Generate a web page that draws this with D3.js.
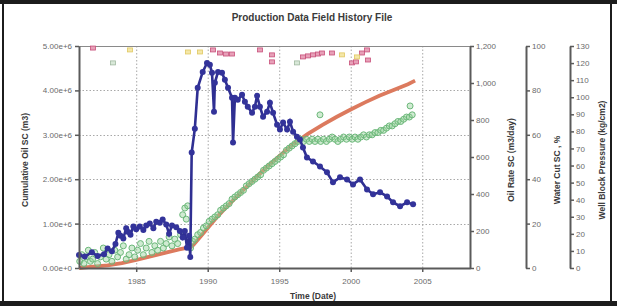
<!DOCTYPE html>
<html><head><meta charset="utf-8">
<script src="https://cdn.jsdelivr.net/npm/d3@7"></script>
<style>
html,body{margin:0;padding:0;background:#fff;}
svg{display:block;font-family:"Liberation Sans",Arial,sans-serif;}
</style></head>
<body><div id="chart"></div>
<script>
// ---- data ----
const xTicks = [1985, 1990, 1995, 2000, 2005];
const cumTicks = [0, 1e6, 2e6, 3e6, 4e6, 5e6];
const rateTicks = [0, 200, 400, 600, 800, 1000, 1200];
const wcTicks = [0, 20, 40, 60, 80, 100];
const presTicks = [0,10,20,30,40,50,60,70,80,90,100,110,120,130];

const oilYears = [1981.0,1981.4,1981.9,1982.3,1982.75,1983.0,1983.3,1983.55,1983.75,1983.9,1984.1,1984.3,1984.45,1984.6,1984.8,1985.0,1985.25,1985.5,1985.7,1985.95,1986.2,1986.4,1986.65,1986.85,1987.1,1987.3,1987.5,1987.8,1988.05,1988.25,1988.4,1988.55,1988.7,1988.78,
  1988.88,1989.1,1989.3,1989.65,1989.95,1990.15,1990.3,1990.44,1990.5,1990.72,1991.0,1991.2,1991.42,1991.7,1991.77,1991.9,1992.1,1992.4,1992.6,1992.8,1993.1,1993.3,1993.45,1993.65,1993.87,1994.15,1994.35,1994.57,1994.85,1995.05,1995.27,1995.55,1995.75,1995.97,1996.24,1996.45,1996.66,1996.94,1997.36,1997.85,1998.34,1998.76,1999.25,1999.74,2000.16,2000.65,2001.14,2001.56,2002.05,2002.54,2002.96,2003.45,2003.94,2004.36];
const oilRate = [70,62,85,65,75,105,90,130,190,175,160,215,195,180,225,210,225,205,230,240,215,250,245,262,235,185,230,220,200,165,200,110,175,60,
  624,753,974,1060,1108,1098,1055,845,1001,1060,1055,1017,974,920,678,920,909,936,899,872,839,872,931,872,818,845,893,839,775,748,786,748,791,737,710,694,651,597,576,549,517,463,490,479,452,479,425,398,409,387,355,334,355,344];

const cumYears = [1981,1982,1983,1984,1985,1986,1987,1988,1988.8,1989,1989.5,1990,1990.5,1991,1992,1993,1994,1995,1996,1997,1998,1999,2000,2001,2002,2003,2004,2004.5];
const cumOil = [0,0.03e6,0.06e6,0.11e6,0.18e6,0.26e6,0.34e6,0.42e6,0.47e6,0.52e6,0.71e6,0.90e6,1.09e6,1.27e6,1.60e6,1.92e6,2.23e6,2.52e6,2.79e6,3.02e6,3.22e6,3.40e6,3.57e6,3.73e6,3.88e6,4.01e6,4.14e6,4.22e6];

const wcYears = [1981.05,1981.2,1981.35,1981.5,1981.65,1981.8,1981.95,1982.1,1982.3,1982.5,1982.7,1982.9,1983.1,1983.3,1983.5,1983.7,1983.9,1984.1,1984.3,1984.5,1984.7,1984.9,1985.1,1985.3,1985.5,1985.7,1985.9,1986.1,1986.3,1986.5,1986.7,1986.9,1987.1,1987.3,1987.5,1987.7,1987.9,1988.1,1988.25,1988.4,1988.5,1988.6,1988.7,
  1988.8,1988.95,1989.1,1989.3,1989.5,1989.7,1989.9,1990.1,1990.3,1990.5,1990.7,1990.9,1991.1,1991.3,1991.5,1991.7,1991.9,1992.1,1992.3,1992.5,1992.7,1992.9,1993.1,1993.3,1993.5,1993.7,1993.9,1994.1,1994.3,1994.5,1994.7,1994.9,1995.1,1995.3,1995.5,1995.7,1995.9,1996.1,1996.3,1996.5,1996.7,1996.9,1997.1,1997.3,1997.5,1997.7,1997.85,1997.9,1998.1,1998.3,1998.5,1998.7,1998.9,1999.1,1999.3,1999.5,1999.7,1999.9,2000.1,2000.3,2000.5,2000.7,2000.9,2001.1,2001.3,2001.5,2001.7,2001.9,2002.1,2002.3,2002.5,2002.7,2002.9,2003.1,2003.3,2003.5,2003.7,2003.9,2004.1,2004.15,2004.3];
const waterCut = [3,6,2,5,8,3,4,7,2,5,9,4,6,3,8,5,7,10,4,6,9,5,8,11,6,9,12,7,10,8,12,9,11,14,10,13,11,15,24,27,22,28,13,
  9,12,13,15,16,18,19,21,22,23,24,26,27,28,29,31,32,33,34,35,37,38,39,40,41,42,44,45,46,47,48,49,50,51,53,54,55,56,57,58,57,58,57,58,57,58,69,57,58,57,58,59,58,57,58,59,58,59,58,59,58,59,60,59,60,60,61,61,62,62,63,64,64,65,66,66,67,68,68,73,69];

const presPinkYears = [1981.98,1990.37,1990.86,1991.28,1991.7,1993.66,1994.5,1994.5,1996.66,1997.01,1997.36,1997.71,1997.99,1998.69,2000.09,2000.37,2000.79,2001.14,2001.21];
const presPink = [128.8,127.7,125.9,125.3,125.3,127.7,124.8,120.7,123.6,124.2,124.8,125.3,125.9,125.9,120.1,120.7,125.9,127.7,121.8];
const presYellowYears = [1984.57,1988.62,1989.46,1999.39,2000.44];
const presYellow = [127.7,126.5,126.5,124.8,123.6];
const presGreyYears = [1983.38,1996.24];
const presGrey = [120.1,120.1];

// ---- chart ----
const W = 617, H = 306;
const L = 79, R = 470, T = 46, B = 268;
const svg = d3.select("#chart").append("svg").attr("width", W).attr("height", H);

// frame
svg.append("rect").attr("x",0).attr("y",0).attr("width",W).attr("height",H).attr("fill","#fff");
svg.append("rect").attr("x",0).attr("y",0).attr("width",W).attr("height",4).attr("fill","#1c1c1c");
svg.append("rect").attr("x",0).attr("y",301).attr("width",W).attr("height",5).attr("fill","#1c1c1c");
svg.append("rect").attr("x",2).attr("y",0).attr("width",2).attr("height",H).attr("fill","#1c1c1c");
svg.append("rect").attr("x",610).attr("y",0).attr("width",2).attr("height",H).attr("fill","#1c1c1c");

const x = d3.scaleLinear().domain([1981, 2008.34]).range([L, R]);
const yCum = d3.scaleLinear().domain([0, 5e6]).range([B, T]);
const yRate = d3.scaleLinear().domain([0, 1200]).range([B, T]);
const yWC = d3.scaleLinear().domain([0, 100]).range([B, T]);
const yP = d3.scaleLinear().domain([0, 130]).range([B, T]);

// grid
const grid = svg.append("g").attr("stroke","#a8a8a8").attr("stroke-width",1).attr("stroke-dasharray","1.5,2");
xTicks.forEach(t => grid.append("line").attr("x1",x(t)+0.5).attr("x2",x(t)+0.5).attr("y1",T).attr("y2",B));
cumTicks.slice(1,5).forEach(t => grid.append("line").attr("x1",L).attr("x2",R).attr("y1",Math.round(yCum(t))+0.5).attr("y2",Math.round(yCum(t))+0.5));
// top border
svg.append("line").attr("x1",L).attr("x2",R).attr("y1",T+0.5).attr("y2",T+0.5).attr("stroke","#8a8a8a").attr("stroke-width",1.2);

const plot = svg.append("g");

// cumulative line
plot.append("path").datum(cumYears.map((d,i)=>[d,cumOil[i]]))
  .attr("fill","none").attr("stroke","#dc7a5e").attr("stroke-width",3.8)
  .attr("d", d3.line().x(d=>x(d[0])).y(d=>yCum(d[1])));

// water cut circles
plot.append("g").selectAll("circle").data(wcYears.map((d,i)=>[d,waterCut[i]])).join("circle")
  .attr("cx",d=>x(d[0])).attr("cy",d=>yWC(d[1])).attr("r",3)
  .attr("fill","rgba(150,210,155,0.45)").attr("stroke","#6cb87a").attr("stroke-width",1);

// oil rate
const oil = oilYears.map((d,i)=>[d,oilRate[i]]);
plot.append("path").datum(oil).attr("fill","none").attr("stroke","#2f2f92").attr("stroke-width",2.6)
  .attr("d", d3.line().x(d=>x(d[0])).y(d=>yRate(d[1])));
plot.append("g").selectAll("circle").data(oil).join("circle")
  .attr("cx",d=>x(d[0])).attr("cy",d=>yRate(d[1])).attr("r",3).attr("fill","#33339a");

// pressure points
function pts(ys, vs, fill, stroke){
  plot.append("g").selectAll("rect").data(ys.map((d,i)=>[d,vs[i]])).join("rect")
    .attr("x",d=>x(d[0])-2.5).attr("y",d=>yP(d[1])-2).attr("width",5).attr("height",4)
    .attr("fill",fill).attr("stroke",stroke).attr("stroke-width",0.8);
}
pts(presPinkYears, presPink, "#e7a0b8", "#c8507a");
pts(presYellowYears, presYellow, "#f4e7a8", "#e0c860");
pts(presGreyYears, presGrey, "#d8e8d8", "#a0b8a0");

// axes
function style(g){
  g.selectAll(".domain").attr("stroke","#5a5a5a").attr("stroke-width",2);
  g.selectAll(".tick line").attr("stroke","#5a5a5a").attr("stroke-width",1.5);
  g.selectAll(".tick text").attr("fill","#6a6a6a").style("font-size","8px");
}
svg.append("g").attr("transform",`translate(0,${B})`)
  .call(d3.axisBottom(x).tickValues(xTicks).tickFormat(d3.format("d")).tickSize(4).tickSizeOuter(0).tickPadding(6))
  .call(style);
svg.append("g").attr("transform",`translate(${L},0)`)
  .call(d3.axisLeft(yCum).tickValues(cumTicks).tickFormat(d3.format(".2e")).tickSize(4).tickSizeOuter(0).tickPadding(3))
  .call(style);
svg.append("g").attr("transform",`translate(${R},0)`)
  .call(d3.axisRight(yRate).tickValues(rateTicks).tickFormat(d3.format(",")).tickSize(4).tickSizeOuter(0).tickPadding(2))
  .call(style);
svg.append("g").attr("transform",`translate(526,0)`)
  .call(d3.axisRight(yWC).tickValues(wcTicks).tickSize(4).tickSizeOuter(0).tickPadding(2))
  .call(style);
svg.append("g").attr("transform",`translate(570,0)`)
  .call(d3.axisRight(yP).tickValues(presTicks).tickSize(4).tickSizeOuter(0).tickPadding(2))
  .call(style);

// titles
const tcol = "#3a3a3a";
svg.append("text").attr("x",312).attr("y",21).attr("text-anchor","middle")
  .style("font-size","10px").style("font-weight","bold").attr("fill",tcol)
  .text("Production Data Field History File");
svg.append("text").attr("x",313).attr("y",299).attr("text-anchor","middle")
  .style("font-size","8.5px").style("font-weight","bold").attr("fill",tcol).text("Time (Date)");
function vlabel(xp, yp, txt){
  svg.append("text").attr("transform",`translate(${xp},${yp}) rotate(-90)`).attr("text-anchor","middle")
    .style("font-size","8.5px").style("font-weight","bold").attr("fill",tcol).text(txt);
}
vlabel(28, 160, "Cumulative Oil SC (m3)");
vlabel(514, 160, "Oil Rate SC (m3/day)");
vlabel(560, 170, "Water Cut SC , %");
vlabel(605, 160, "Well Block Pressure (kg/cm2)");
</script></body></html>
